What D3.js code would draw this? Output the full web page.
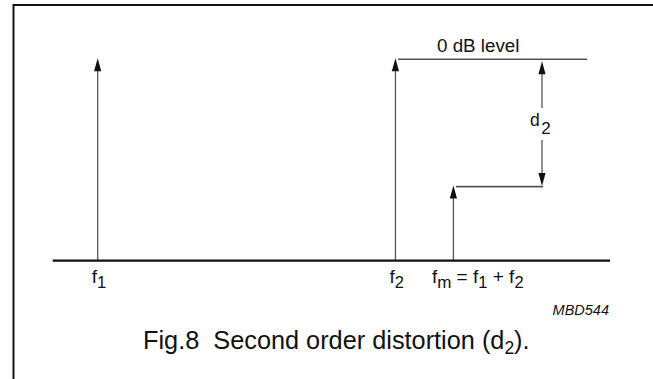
<!DOCTYPE html>
<html>
<head>
<meta charset="utf-8">
<script src="https://cdn.jsdelivr.net/npm/d3@7"></script>
<style>
  html, body { margin: 0; padding: 0; background: #fff; }
  svg { display: block; }
  text { font-family: "Liberation Sans", Arial, Helvetica, sans-serif; fill: #111; white-space: pre; }
</style>
</head>
<body>
<svg id="chart" width="653" height="379"></svg>
<script>
// ---- data ----
const categories = ["f1", "f2", "fm"];           // spectral components
const freqPos = [8.07, 61.5, 71.9];                // position along frequency axis (0..100)
const amplitudes = [1.0, 1.0, 0.368];             // relative amplitude (0 dB level = 1)
const levelLineEnd = 95.9;                         // end of 0 dB reference line (freq units)
const d2ArrowPos = 87.8;                           // position of d2 measurement arrow
const d2LowerEnd = 88.0;                           // end of fm level line
const labelMain = ["f", "f", "f"];
const labelSub = ["1", "2", "m"];
const captionText = "Fig.8  Second order distortion (d";
const codeText = "MBD544";

const svg = d3.select("#chart");
svg.append("rect").attr("width", 653).attr("height", 379).attr("fill", "#fff");

// frame
svg.append("path")
  .attr("d", "M13.5,385 L13.5,5 L660,5")
  .attr("fill", "none").attr("stroke", "#111").attr("stroke-width", 2);

const x = d3.scaleLinear().domain([0, 100]).range([52.7, 610]);
const y = d3.scaleLinear().domain([0, 1]).range([260.7, 59.3]);

const lineCol = "#555";
const headCol = "#111";

function arrowHead(px, py, dir) { // dir -1 = up, +1 = down; tip at (px,py)
  const L = 13, W = 3.6;
  return `M${px},${py} L${px - W},${py - dir * L} L${px + W},${py - dir * L} Z`;
}

// spectral lines
categories.forEach((c, i) => {
  const px = x(freqPos[i]);
  const py = y(amplitudes[i]);
  svg.append("line")
    .attr("x1", px).attr("x2", px)
    .attr("y1", y(0)).attr("y2", py + 6)
    .attr("stroke", lineCol).attr("stroke-width", 1.3);
  svg.append("path").attr("d", arrowHead(px, py - 1, -1)).attr("fill", headCol);
});

// 0 dB level line
svg.append("line")
  .attr("x1", x(freqPos[1]) + 2.5).attr("x2", x(levelLineEnd))
  .attr("y1", y(1)).attr("y2", y(1))
  .attr("stroke", lineCol).attr("stroke-width", 1.6);

// fm level line
svg.append("line")
  .attr("x1", x(freqPos[2]) + 2.5).attr("x2", x(d2LowerEnd))
  .attr("y1", y(amplitudes[2])).attr("y2", y(amplitudes[2]))
  .attr("stroke", lineCol).attr("stroke-width", 1.6);

// d2 measurement arrows
const dx = x(d2ArrowPos);
svg.append("line").attr("x1", dx).attr("x2", dx)
  .attr("y1", y(1) + 8).attr("y2", 108)
  .attr("stroke", lineCol).attr("stroke-width", 1.3);
svg.append("path").attr("d", arrowHead(dx, y(1) + 2, -1)).attr("fill", headCol);
svg.append("line").attr("x1", dx).attr("x2", dx)
  .attr("y1", 140).attr("y2", y(amplitudes[2]) - 8)
  .attr("stroke", lineCol).attr("stroke-width", 1.3);
svg.append("path").attr("d", arrowHead(dx, y(amplitudes[2]) - 0.5, 1)).attr("fill", headCol);

// d2 label
const d2t = svg.append("text").attr("x", dx - 12).attr("y", 126).attr("font-size", 17.5);
d2t.append("tspan").text("d");
d2t.append("tspan").attr("dx", 1.5).attr("dy", 8).attr("font-size", 17).text("2");

// 0 dB level label
svg.append("text").attr("x", 437).attr("y", 51.5).attr("font-size", 18.8).text("0 dB level");

// baseline
svg.append("line")
  .attr("x1", x(0)).attr("x2", x(100))
  .attr("y1", y(0)).attr("y2", y(0))
  .attr("stroke", "#111").attr("stroke-width", 2.2);

// tick labels
[0, 1].forEach(i => {
  const t = svg.append("text").attr("x", x(freqPos[i]) - 6).attr("y", 283).attr("font-size", 19);
  t.append("tspan").text(labelMain[i]);
  t.append("tspan").attr("dy", 5).attr("font-size", 16.5).text(labelSub[i]);
});
{
  const t = svg.append("text").attr("x", x(freqPos[2]) - 21.5).attr("y", 283).attr("font-size", 19);
  t.append("tspan").text(labelMain[2]);
  t.append("tspan").attr("dy", 5).attr("font-size", 17).text(labelSub[2]);
  t.append("tspan").attr("dy", -5).text(" = f");
  t.append("tspan").attr("dy", 5).attr("font-size", 16.5).text(labelSub[0]);
  t.append("tspan").attr("dy", -5).text(" + f");
  t.append("tspan").attr("dy", 5).attr("font-size", 16.5).text(labelSub[1]);
}

// figure code
svg.append("text").attr("x", 609).attr("y", 315).attr("text-anchor", "end")
  .attr("font-size", 14.5).attr("font-style", "italic").text(codeText);

// caption
const cap = svg.append("text").attr("x", 143).attr("y", 349).attr("font-size", 25.3);
cap.append("tspan").text(captionText);
cap.append("tspan").attr("dy", 5).attr("font-size", 17.5).text("2");
cap.append("tspan").attr("dy", -5).text(").");
</script>
</body>
</html>
